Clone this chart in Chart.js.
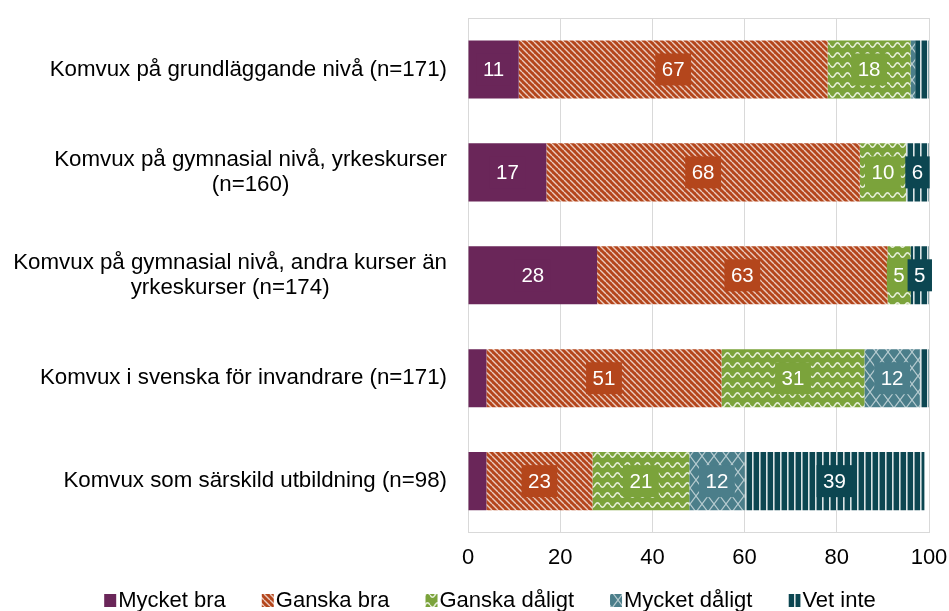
<!DOCTYPE html>
<html>
<head>
<meta charset="utf-8">
<script src="https://cdn.jsdelivr.net/npm/chart.js@4"></script>
<style>
  html,body{margin:0;padding:0;background:#fff;}
  #wrap{width:949px;height:611px;}
</style>
</head>
<body>
<div id="wrap"><canvas id="chart" width="949" height="611"></canvas></div>
<script>
// categories (y axis), one label per row, split in lines
const categories = [
  ['Komvux på grundläggande nivå (n=171)'],
  ['Komvux på gymnasial nivå, yrkeskurser', '(n=160)'],
  ['Komvux på gymnasial nivå, andra kurser än', 'yrkeskurser (n=174)'],
  ['Komvux i svenska för invandrare (n=171)'],
  ['Komvux som särskild utbildning (n=98)']
];
const seriesNames = ['Mycket bra', 'Ganska bra', 'Ganska dåligt', 'Mycket dåligt', 'Vet inte'];
const mycketBra    = [11, 17, 28, 4, 4];
const ganskaBra    = [67, 68, 63, 51, 23];
const ganskaDaligt = [18, 10, 5, 31, 21];
const mycketDaligt = [1, 0, 0, 12, 12];
const vetInte      = [3, 6, 5, 2, 39];
const xTicks = [0, 20, 40, 60, 80, 100];

const FONT = '"Liberation Sans", Arial, sans-serif';
const colors = ['#6a2659', '#b4461c', '#7ba33b', '#4b7e8a', '#0c4651'];
const kinds = ['solid', 'diag', 'wave', 'cross', 'vert'];

function makePattern(kind, bg){
  const c = document.createElement('canvas');
  let w = 8, h = 8;
  if(kind==='diag'){ w = 6; h = 6; }
  if(kind==='wave'){ w = 10; h = 10; }
  if(kind==='cross'){ w = 12; h = 16; }
  if(kind==='vert'){ w = 7; h = 4; }
  c.width = w; c.height = h;
  const x = c.getContext('2d');
  x.fillStyle = bg; x.fillRect(0, 0, w, h);
  if(kind==='solid') return bg;
  x.strokeStyle = 'rgba(255,255,255,0.72)';
  if(kind==='diag'){
    x.lineWidth = 1.4;
    [-6, 0, 6].forEach(k=>{ x.beginPath(); x.moveTo(k, 0); x.lineTo(k+6, 6); x.stroke(); });
  } else if(kind==='wave'){
    x.lineWidth = 1.6;
    x.strokeStyle = 'rgba(255,255,255,0.8)';
    x.beginPath();
    for(let i=0;i<=w;i+=0.5){
      const y = 5 + 2.2*Math.sin(2*Math.PI*i/w);
      if(i===0) x.moveTo(i, y); else x.lineTo(i, y);
    }
    x.stroke();
  } else if(kind==='cross'){
    x.lineWidth = 1.2;
    x.strokeStyle = 'rgba(255,255,255,0.6)';
    x.beginPath(); x.moveTo(0, 0); x.lineTo(w, h); x.moveTo(w, 0); x.lineTo(0, h); x.stroke();
  } else if(kind==='vert'){
    x.fillStyle = 'rgba(255,255,255,0.85)';
    x.fillRect(3, 0, 1.6, h);
  }
  return x.createPattern(c, 'repeat');
}

const seriesData = [mycketBra, ganskaBra, ganskaDaligt, mycketDaligt, vetInte];

const datasets = seriesNames.map((name,i)=>({
  label: name,
  data: seriesData[i],
  backgroundColor: makePattern(kinds[i], colors[i]),
  labelColor: colors[i],
  borderWidth: 0,
  barPercentage: 0.565,
  categoryPercentage: 1,
  clip: 0
}));

// value boxes in the middle of each segment
const valueLabels = {
  id: 'valueLabels',
  afterDatasetsDraw(chart){
    const ctx = chart.ctx, area = chart.chartArea;
    ctx.save();
    ctx.font = '20.5px ' + FONT;
    ctx.textAlign = 'center';
    ctx.textBaseline = 'middle';
    chart.data.datasets.forEach((ds,di)=>{
      chart.getDatasetMeta(di).data.forEach((bar,i)=>{
        const v = ds.data[i];
        if(v < 5) return;
        const x1 = Math.min(bar.x, area.right), x0 = Math.max(bar.base, area.left);
        const cx = (x0 + x1) / 2;
        const tw = ctx.measureText(String(v)).width;
        const bw = tw + 13, bh = 32;
        ctx.fillStyle = ds.labelColor;
        ctx.fillRect(cx - bw/2, bar.y - bh/2, bw, bh);
        ctx.fillStyle = '#fff';
        ctx.fillText(String(v), cx, bar.y + 1);
      });
    });
    ctx.restore();
  }
};

// category labels: block right aligned, lines centred within block
const catLabels = {
  id: 'catLabels',
  afterDraw(chart){
    const ctx = chart.ctx, ys = chart.scales.y;
    const right = chart.chartArea.left - 21;
    ctx.save();
    ctx.font = '22.3px ' + FONT;
    ctx.fillStyle = '#000';
    ctx.textAlign = 'center';
    ctx.textBaseline = 'middle';
    categories.forEach((lines,i)=>{
      const cy = ys.getPixelForValue(i);
      const maxW = Math.max(...lines.map(l=>ctx.measureText(l).width));
      const cx = right - maxW/2;
      lines.forEach((l,j)=>{
        ctx.fillText(l, cx, cy + (j - (lines.length-1)/2) * 25);
      });
    });
    ctx.restore();
  }
};

// legend row at the bottom
const legendRow = {
  id: 'legendRow',
  afterDraw(chart){
    const ctx = chart.ctx;
    ctx.save();
    ctx.font = '22px ' + FONT;
    ctx.textBaseline = 'middle';
    const box = 12, gap = 2, itemGap = 36;
    const widths = seriesNames.map(n=>box + gap + ctx.measureText(n).width);
    const total = widths.reduce((a,b)=>a+b,0) + itemGap*(widths.length-1);
    let x = 490 - total/2;
    const y = 600;
    chart.data.datasets.forEach((ds,i)=>{
      ctx.fillStyle = ds.backgroundColor;
      ctx.fillRect(x, y - 6, box, 13);
      ctx.fillStyle = '#000';
      ctx.fillText(seriesNames[i], x + box + gap, y + 1);
      x += widths[i] + itemGap;
    });
    ctx.restore();
  }
};

new Chart(document.getElementById('chart'), {
  type: 'bar',
  data: { labels: categories.map(c=>c.join(' ')), datasets },
  options: {
    indexAxis: 'y',
    responsive: false,
    animation: false,
    layout: { padding: { left: 0, right: 20, top: 18, bottom: 28 } },
    plugins: { legend: { display: false }, tooltip: { enabled: false } },
    scales: {
      x: {
        stacked: true, min: 0, max: 100,
        afterBuildTicks: s=>{ s.ticks = xTicks.map(v=>({value: v})); },
        afterFit: s=>{ s.paddingRight = 0; s.paddingLeft = 0; },
        grid: { color: '#d9d9d9', drawTicks: false },
        border: { display: true, color: '#d9d9d9' },
        ticks: { padding: 12, color: '#000', font: { family: FONT, size: 22 } }
      },
      xTop: {
        type: 'linear', position: 'top', min: 0, max: 100,
        afterFit: s=>{ s.paddingRight = 0; s.paddingLeft = 0; },
        grid: { display: false, drawTicks: false },
        border: { display: true, color: '#d9d9d9' },
        ticks: { display: false }
      },
      y: {
        stacked: true,
        grid: { display: false, drawTicks: false },
        border: { display: true, color: '#d9d9d9' },
        ticks: { display: false },
        afterFit: s=>{ s.width = 468; }
      }
    }
  },
  plugins: [valueLabels, catLabels, legendRow]
});
</script>
</body>
</html>
